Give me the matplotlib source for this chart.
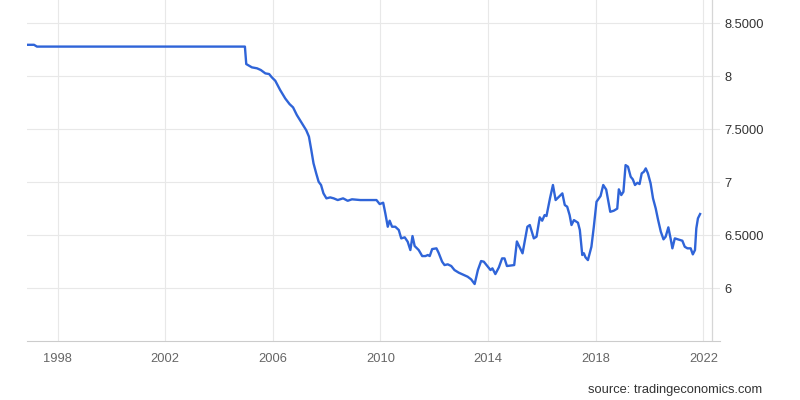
import matplotlib
matplotlib.use("Agg")
import matplotlib.pyplot as plt

plt.rcParams['font.family'] = ['Liberation Sans', 'DejaVu Sans']

# USD/CNY style series (decimal year, rate)
years = [1996.86, 1997.12, 1997.23, 2004.96, 2005.01, 2005.22, 2005.41, 2005.55,
         2005.72, 2005.86, 2005.96, 2006.09, 2006.27, 2006.46, 2006.62, 2006.75,
         2006.89, 2007.08, 2007.24, 2007.34, 2007.43, 2007.51, 2007.61, 2007.70,
         2007.79, 2007.88, 2007.99, 2008.13, 2008.26, 2008.41, 2008.61, 2008.78,
         2008.94, 2009.25, 2009.62, 2009.85, 2009.97, 2010.10, 2010.18, 2010.27,
         2010.34, 2010.43, 2010.55, 2010.68, 2010.77, 2010.90, 2011.01, 2011.11,
         2011.19, 2011.27, 2011.42, 2011.55, 2011.67, 2011.76, 2011.83, 2011.92,
         2012.08, 2012.16, 2012.29, 2012.38, 2012.50, 2012.63, 2012.75, 2012.91,
         2013.10, 2013.24, 2013.37, 2013.50, 2013.62, 2013.74, 2013.84, 2013.97,
         2014.09, 2014.16, 2014.27, 2014.40, 2014.52, 2014.61, 2014.70, 2014.97,
         2015.07, 2015.28, 2015.46, 2015.55, 2015.70, 2015.80, 2015.92, 2016.01,
         2016.10, 2016.17, 2016.30, 2016.41, 2016.51, 2016.76, 2016.85, 2016.94,
         2017.03, 2017.10, 2017.19, 2017.34, 2017.41, 2017.50, 2017.56, 2017.62,
         2017.71, 2017.84, 2017.93, 2018.03, 2018.18, 2018.28, 2018.39, 2018.54,
         2018.67, 2018.80, 2018.86, 2018.95, 2019.03, 2019.11, 2019.20, 2019.30,
         2019.38, 2019.46, 2019.55, 2019.63, 2019.71, 2019.79, 2019.86, 2019.94,
         2020.04, 2020.13, 2020.23, 2020.32, 2020.42, 2020.52, 2020.60, 2020.70,
         2020.79, 2020.85, 2020.94, 2021.06, 2021.22, 2021.31, 2021.41, 2021.53,
         2021.61, 2021.69, 2021.74, 2021.80, 2021.88]
rates = [8.297, 8.297, 8.28, 8.28, 8.115, 8.084, 8.075, 8.059,
         8.027, 8.021, 7.99, 7.957, 7.87, 7.79, 7.737, 7.706,
         7.634, 7.555, 7.49, 7.43, 7.30, 7.178, 7.083, 7.004,
         6.973, 6.894, 6.847, 6.856, 6.847, 6.831, 6.847, 6.824,
         6.838, 6.831, 6.831, 6.831, 6.793, 6.806, 6.705, 6.579,
         6.636, 6.579, 6.579, 6.548, 6.469, 6.479, 6.438, 6.359,
         6.491, 6.397, 6.359, 6.302, 6.302, 6.312, 6.302, 6.368,
         6.375, 6.333, 6.249, 6.217, 6.224, 6.208, 6.17, 6.145,
         6.123, 6.107, 6.082, 6.038, 6.17, 6.255, 6.249, 6.208,
         6.17, 6.186, 6.132, 6.195, 6.28, 6.28, 6.208, 6.217,
         6.44, 6.328, 6.579, 6.595, 6.469, 6.485, 6.668, 6.636,
         6.689, 6.68, 6.847, 6.973, 6.831, 6.894, 6.784, 6.768,
         6.689, 6.595, 6.642, 6.617, 6.548, 6.312, 6.328, 6.29,
         6.264, 6.39, 6.579, 6.815, 6.869, 6.973, 6.93, 6.72,
         6.73, 6.75, 6.932, 6.878, 6.909, 7.161, 7.146, 7.051,
         7.026, 6.973, 6.994, 6.982, 7.083, 7.098, 7.13, 7.083,
         6.989, 6.847, 6.752, 6.642, 6.532, 6.46, 6.485, 6.573,
         6.46, 6.375, 6.469, 6.46, 6.447, 6.39, 6.375, 6.375,
         6.318, 6.359, 6.564, 6.658, 6.699]

x_ticks = [1998, 2002, 2006, 2010, 2014, 2018, 2022]
y_ticks = [6, 6.5, 7, 7.5, 8, 8.5]
y_labels = ['6', '6.5000', '7', '7.5000', '8', '8.5000']

fig = plt.figure(figsize=(8, 4), dpi=100)
ax = fig.add_axes([27/800, 1 - 341/400, (720 - 27)/800, 341/400])

ax.plot(years, rates, color='#2f64d8', lw=1.7, solid_joinstyle='round')

ax.set_xlim(1996.86, 2022.62)
ax.set_ylim(5.5, 8.72)
ax.set_xticks(x_ticks)
ax.set_xticklabels([str(y) for y in x_ticks])
ax.set_yticks(y_ticks)
ax.set_yticklabels(y_labels)
ax.yaxis.tick_right()
ax.tick_params(axis='y', length=0, pad=3, labelsize=9.3, labelcolor='#333333')
ax.tick_params(axis='x', length=0, pad=9, labelsize=9.3, labelcolor='#666666')
ax.grid(True, color='#e8e8e8', lw=0.8)
ax.set_axisbelow(True)
for s in ['top', 'left', 'right']:
    ax.spines[s].set_visible(False)
ax.spines['bottom'].set_color('#cccccc')
ax.axvline(2022.32, color='#d6d6d6', lw=0.9)

fig.text(762/800, 1 - 390/400, 'source: tradingeconomics.com', ha='right', va='center',
         fontsize=9.3, color='#333333')

fig.savefig('out.png', dpi=100)
